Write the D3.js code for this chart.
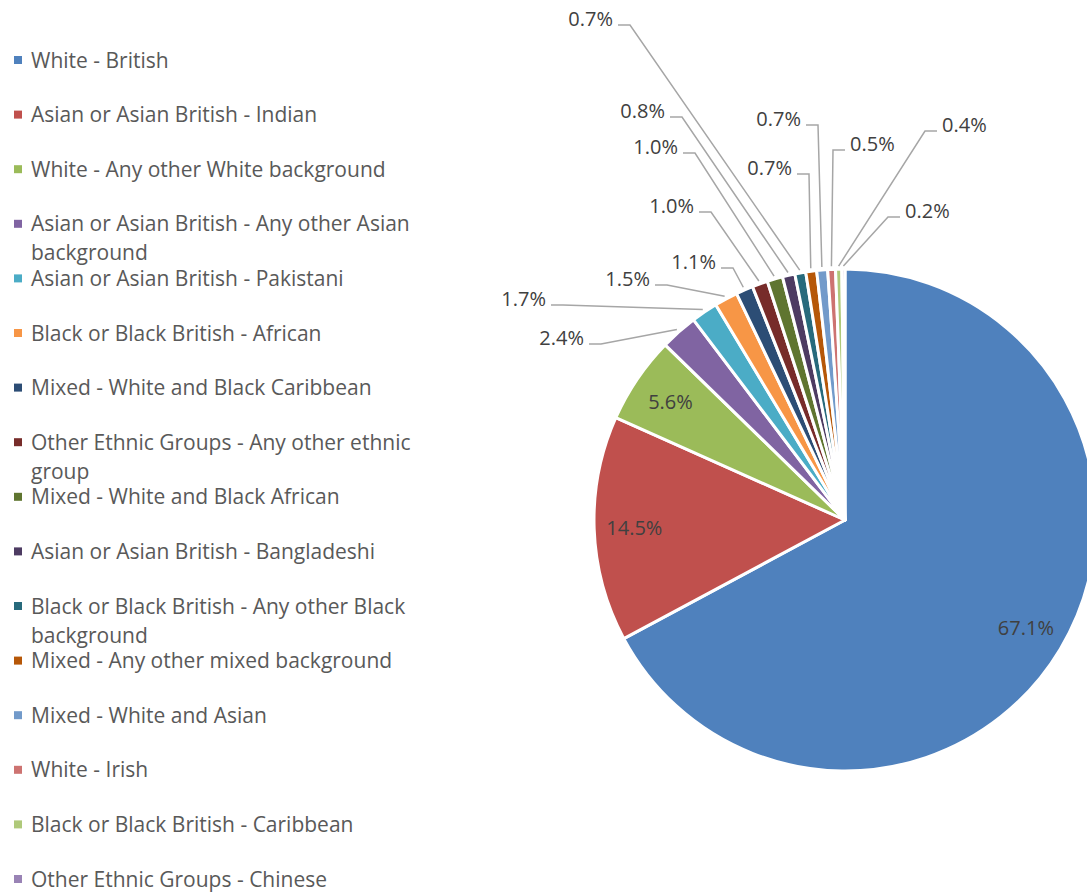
<!DOCTYPE html>
<html>
<head>
<meta charset="utf-8">
<script src="https://cdn.jsdelivr.net/npm/d3@7"></script>
<style>
  html, body { margin: 0; padding: 0; background: #ffffff; }
  svg { display: block; }
  text { font-family: "Open Sans", "Noto Sans", sans-serif; }
</style>
</head>
<body>
<svg id="chart" width="1087" height="892"></svg>
<script>
// Ethnic groups, in drawing order (clockwise from 12 o'clock)
const categories = [
  "White - British",
  "Asian or Asian British - Indian",
  "White - Any other White background",
  "Asian or Asian British - Any other Asian background",
  "Asian or Asian British - Pakistani",
  "Black or Black British - African",
  "Mixed - White and Black Caribbean",
  "Other Ethnic Groups - Any other ethnic group",
  "Mixed - White and Black African",
  "Asian or Asian British - Bangladeshi",
  "Black or Black British - Any other Black background",
  "Mixed - Any other mixed background",
  "Mixed - White and Asian",
  "White - Irish",
  "Black or Black British - Caribbean",
  "Other Ethnic Groups - Chinese"
];

// Share of each group, percent
const shares = [67.1, 14.5, 5.6, 2.4, 1.7, 1.5, 1.1, 1.0, 1.0, 0.8, 0.7, 0.7, 0.7, 0.5, 0.4, 0.2];

const colors = [
  "#4F81BD", "#C0504D", "#9BBB59", "#8064A2", "#4BACC6", "#F79646",
  "#2C4D75", "#772C2A", "#5F7530", "#4D3B62", "#276A7C", "#B65708",
  "#729ACA", "#CD7371", "#AFC97A", "#9983B5"
];

// Where each outside label sits: elbow point of its leader line and the side the text goes on.
// Entries marked "in" are drawn inside their slice.
const labelLayout = [
  "in", "in", "in",
  { ex: 601, ey: 344, side: "L" },
  { ex: 563, ey: 305, side: "L" },
  { ex: 667, ey: 285, side: "L" },
  { ex: 733, ey: 268, side: "L" },
  { ex: 711, ey: 212, side: "L" },
  { ex: 695, ey: 153, side: "L" },
  { ex: 682, ey: 117, side: "L" },
  { ex: 630, ey: 25,  side: "L" },
  { ex: 809, ey: 174, side: "L" },
  { ex: 818, ey: 125, side: "L" },
  { ex: 833, ey: 150, side: "R" },
  { ex: 925, ey: 131, side: "R" },
  { ex: 888, ey: 217, side: "R" }
];

const svg = d3.select("#chart");
const cx = 845, cy = 520, radius = 251;
const labelFont = 20;
const legendFont = 21;

const data = categories.map((c, i) => ({ name: c, value: shares[i], color: colors[i], layout: labelLayout[i] }));

const pie = d3.pie().sort(null).value(d => d.value);
const arcs = pie(data);
const arc = d3.arc().innerRadius(0).outerRadius(radius);

const g = svg.append("g").attr("transform", `translate(${cx},${cy})`);

g.selectAll("path.slice")
  .data(arcs)
  .join("path")
  .attr("class", "slice")
  .attr("d", arc)
  .attr("fill", d => d.data.color)
  .attr("stroke", "#ffffff")
  .attr("stroke-width", 3)
  .attr("stroke-linejoin", "round");

// Labels inside the large slices
const innerArc = d3.arc().innerRadius(radius * 0.84).outerRadius(radius * 0.84);
g.selectAll("text.inlabel")
  .data(arcs.filter(d => d.data.layout === "in"))
  .join("text")
  .attr("class", "inlabel")
  .attr("x", d => innerArc.centroid(d)[0])
  .attr("y", d => innerArc.centroid(d)[1])
  .attr("text-anchor", "middle")
  .attr("dy", "0.35em")
  .attr("font-size", labelFont)
  .attr("fill", "#404040")
  .text(d => d.data.value.toFixed(1) + "%");

// Outside labels with leader lines
const outer = arcs.filter(d => d.data.layout !== "in");
const seg = 12, gap = 5;
const edgePoint = d => {
  const a = (d.startAngle + d.endAngle) / 2;
  const r = radius + 3;
  return [cx + r * Math.sin(a), cy - r * Math.cos(a)];
};

svg.selectAll("polyline.leader")
  .data(outer)
  .join("polyline")
  .attr("class", "leader")
  .attr("points", d => {
    const L = d.data.layout;
    const sx = L.side === "L" ? L.ex - seg : L.ex + seg;
    const p = edgePoint(d);
    return [[sx, L.ey], [L.ex, L.ey], p].map(q => q.join(",")).join(" ");
  })
  .attr("fill", "none")
  .attr("stroke", "#A6A6A6")
  .attr("stroke-width", 1.5);

svg.selectAll("text.outlabel")
  .data(outer)
  .join("text")
  .attr("class", "outlabel")
  .attr("x", d => {
    const L = d.data.layout;
    return L.side === "L" ? L.ex - seg - gap : L.ex + seg + gap;
  })
  .attr("y", d => d.data.layout.ey + 1)
  .attr("text-anchor", d => d.data.layout.side === "L" ? "end" : "start")
  .attr("font-size", labelFont)
  .attr("fill", "#404040")
  .text(d => d.data.value.toFixed(1) + "%");

// Legend
const legend = svg.append("g").attr("class", "legend");
const rowStep = 54.6, firstRow = 60, lineStep = 29, textX = 31, wrapWidth = 420;

data.forEach((d, i) => {
  const y = firstRow + i * rowStep;
  legend.append("rect")
    .attr("x", 14).attr("y", y - 4)
    .attr("width", 8).attr("height", 8)
    .attr("fill", d.color);
  const t = legend.append("text")
    .attr("x", textX)
    .attr("y", y + 7.5)
    .attr("font-size", legendFont)
    .attr("fill", "#595959");
  // simple word wrap
  const words = d.name.split(" ");
  let line = [];
  let tspan = t.append("tspan").attr("x", textX).attr("dy", 0);
  words.forEach(w => {
    line.push(w);
    tspan.text(line.join(" "));
    if (tspan.node().getComputedTextLength() > wrapWidth && line.length > 1) {
      line.pop();
      tspan.text(line.join(" "));
      line = [w];
      tspan = t.append("tspan").attr("x", textX).attr("dy", lineStep).text(w);
    }
  });
});
</script>
</body>
</html>
